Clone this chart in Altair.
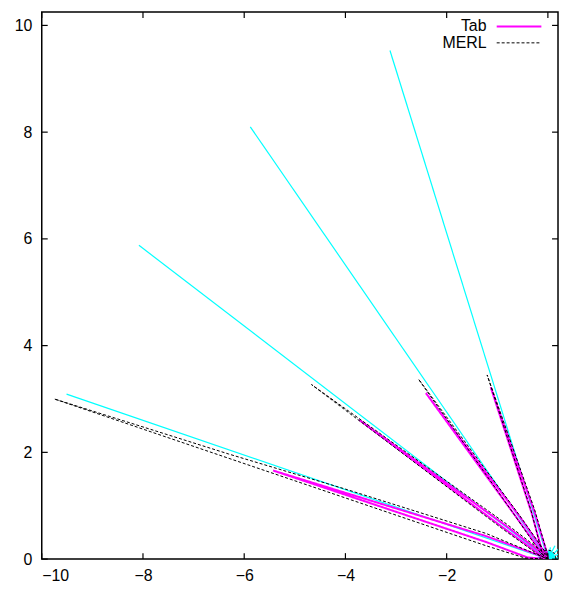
import altair as alt
import pandas as pd

# ---------------- data ----------------
# Tab lobes (magenta), one closed outline per lobe
tab_18_x = [0.0, -0.40, -1.22, -5.43, -1.22, -0.20, 0.0]
tab_18_y = [0.0, 0.03, 0.32, 1.66, 0.43, 0.08, 0.0]
tab_36_x = [0.0, -0.15, -0.90, -3.73, -0.85, -0.10, 0.0]
tab_36_y = [0.0, 0.08, 0.60, 2.61, 0.64, 0.10, 0.0]
tab_54_x = [0.0, -0.12, -0.62, -2.41, -0.56, -0.06, 0.0]
tab_54_y = [0.0, 0.12, 0.78, 3.11, 0.80, 0.12, 0.0]
tab_72_x = [0.0, -0.10, -0.32, -1.13, -0.26, -0.02, 0.0]
tab_72_y = [0.0, 0.10, 0.86, 3.22, 0.87, 0.12, 0.0]

# MERL lobes (black dashed)
merl_18_x = [0.0, -0.45, -1.22, -6.31, -9.75, -6.31, -3.96, -1.22, -0.30, 0.0]
merl_18_y = [0.0, 0.02, 0.25, 1.89, 3.00, 1.97, 1.30, 0.48, 0.12, 0.0]
merl_36_x = [0.0, -0.20, -0.90, -4.67, -0.82, -0.08, 0.0]
merl_36_y = [0.0, 0.09, 0.57, 3.27, 0.66, 0.12, 0.0]
merl_54_x = [0.0, -0.14, -0.64, -2.555, -0.56, -0.05, 0.0]
merl_54_y = [0.0, 0.11, 0.80, 3.37, 0.82, 0.13, 0.0]
merl_72_x = [0.0, -0.11, -0.33, -1.20, -0.26, -0.02, 0.0]
merl_72_y = [0.0, 0.10, 0.90, 3.45, 0.92, 0.13, 0.0]
merl_diffuse_x = [0.16, 0.14, 0.08, 0.0, -0.08, -0.14, -0.16]
merl_diffuse_y = [0.0, 0.09, 0.15, 0.17, 0.15, 0.09, 0.0]

# Cyan reference directions
cyan_end_x = [-9.51, -8.08, -5.88, -3.12]
cyan_end_y = [3.09, 5.88, 8.10, 9.53]
cyan_short_x = [0.30, 0.27, 0.22, 0.14, 0.05, -0.05, -0.12, -0.17, -0.20]
cyan_short_y = [0.03, 0.12, 0.20, 0.25, 0.22, 0.18, 0.14, 0.09, 0.03]
cyan_disk_x = [-0.15, -0.13, -0.08, 0.0, 0.08, 0.13, 0.15]
cyan_disk_y = [0.0, 0.08, 0.14, 0.16, 0.14, 0.08, 0.0]

x_ticks = [-10, -8, -6, -4, -2, 0]
y_ticks = [0, 2, 4, 6, 8, 10]
series_names = ["Tab", "MERL"]

# ---------------- tables ----------------
rows = []
for name, lobes in [
    ("Tab", [(tab_18_x, tab_18_y), (tab_36_x, tab_36_y), (tab_54_x, tab_54_y), (tab_72_x, tab_72_y)]),
    ("MERL", [(merl_18_x, merl_18_y), (merl_36_x, merl_36_y), (merl_54_x, merl_54_y),
              (merl_72_x, merl_72_y), (merl_diffuse_x, merl_diffuse_y)]),
]:
    for gi, (xs_, ys_) in enumerate(lobes):
        for oi, (xv, yv) in enumerate(zip(xs_, ys_)):
            rows.append({"x": xv, "y": yv, "series": name, "group": f"{name}{gi}", "ord": oi})
lobes_df = pd.DataFrame(rows)

crow = []
gi = 0
for ex, ey in zip(cyan_end_x + cyan_short_x, cyan_end_y + cyan_short_y):
    crow.append({"x": 0.0, "y": 0.0, "group": gi, "ord": 0})
    crow.append({"x": ex, "y": ey, "group": gi, "ord": 1})
    gi += 1
cyan_df = pd.DataFrame(crow)
disk_df = pd.DataFrame({"x": cyan_disk_x, "y": cyan_disk_y})

W, H = 520, 551
FONT = "Liberation Sans"
FS = 16

xs = alt.Scale(domain=[-10, 0.2], nice=False, zero=False)
ys = alt.Scale(domain=[0, 10.25], nice=False)
xaxis = alt.Axis(values=x_ticks, ticks=False, tickSize=0, domain=False, grid=False,
                 labelFont=FONT, labelFontSize=FS, labelPadding=9, title=None,
                 labelColor="black")
yaxis = alt.Axis(values=y_ticks, ticks=False, tickSize=0, domain=False, grid=False,
                 labelFont=FONT, labelFontSize=FS, labelPadding=10, title=None,
                 labelColor="black", minExtent=34, maxExtent=34)

cyan_lines = alt.Chart(cyan_df).mark_line(color="#00ffff", strokeWidth=1.2, clip=True).encode(
    x=alt.X("x:Q", scale=xs, axis=xaxis),
    y=alt.Y("y:Q", scale=ys, axis=yaxis),
    detail="group:N",
    order="ord:Q",
)
cyan_disk = alt.Chart(disk_df).mark_area(color="#00ffff", clip=True).encode(
    x=alt.X("x:Q", scale=xs),
    y=alt.Y("y:Q", scale=ys),
)

lobes = alt.Chart(lobes_df).mark_line(clip=True).encode(
    x=alt.X("x:Q", scale=xs),
    y=alt.Y("y:Q", scale=ys),
    color=alt.Color("series:N", title=None,
                    scale=alt.Scale(domain=series_names, range=["#ff00ff", "#000000"])),
    strokeDash=alt.StrokeDash("series:N", title=None,
                              scale=alt.Scale(domain=series_names, range=[[1, 0], [3, 2]])),
    strokeWidth=alt.StrokeWidth("series:N", title=None,
                                scale=alt.Scale(domain=series_names, range=[2, 1])),
    detail="group:N",
    order="ord:Q",
)

tx = pd.DataFrame({"t": x_ticks})
ty = pd.DataFrame({"t": y_ticks})
tick_bottom = alt.Chart(tx).mark_rule(color="black", strokeWidth=1.2).encode(
    x=alt.X("t:Q", scale=xs), y=alt.value(H), y2=alt.value(H - 6))
tick_top = alt.Chart(tx).mark_rule(color="black", strokeWidth=1.2).encode(
    x=alt.X("t:Q", scale=xs), y=alt.value(0), y2=alt.value(6))
tick_left = alt.Chart(ty).mark_rule(color="black", strokeWidth=1.2).encode(
    y=alt.Y("t:Q", scale=ys), x=alt.value(0), x2=alt.value(6))
tick_right = alt.Chart(ty).mark_rule(color="black", strokeWidth=1.2).encode(
    y=alt.Y("t:Q", scale=ys), x=alt.value(W - 6), x2=alt.value(W))

chart = alt.layer(
    cyan_lines, cyan_disk, lobes, tick_bottom, tick_top, tick_left, tick_right
).properties(
    width=W, height=H, padding={"left": 0, "top": 1, "right": 0, "bottom": 0}
).configure_view(
    stroke="black", strokeWidth=1.5
).configure_legend(
    orient="none", legendX=431, legendY=6, padding=0, rowPadding=-3,
    symbolType="M2.5,0H8.5", symbolSize=225, labelAlign="right", labelOffset=0,
    labelFont=FONT, labelFontSize=FS, labelColor="black", symbolStrokeWidth=1.5,
)

chart.save("out.html", embed_options={"renderer": "svg", "actions": False})
